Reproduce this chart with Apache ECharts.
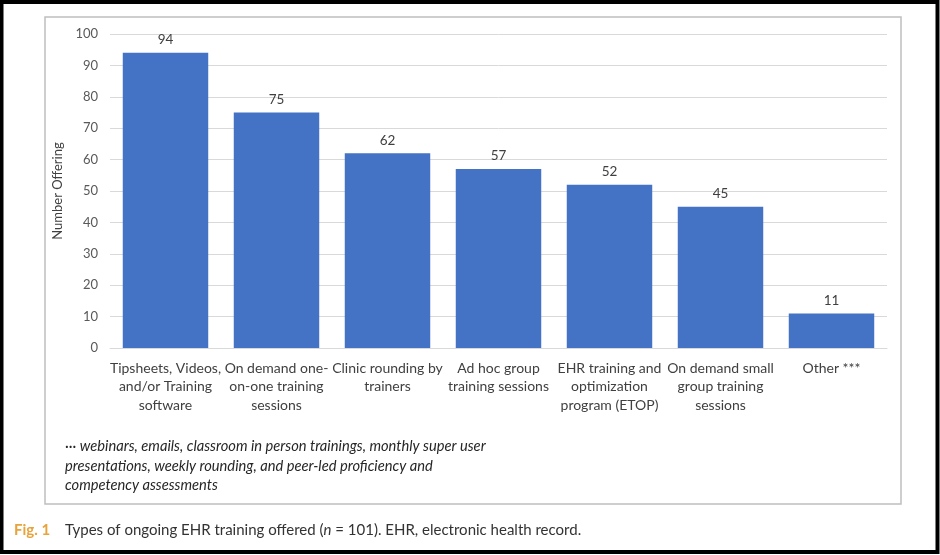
<!DOCTYPE html>
<html>
<head>
<meta charset="utf-8">
<script src="https://cdn.jsdelivr.net/npm/echarts@6/dist/echarts.min.js"></script>
<style>
    html, body { margin: 0; padding: 0; background: #fff; }
    #main { width: 940px; height: 555px; }
</style>
</head>
<body>
<div id="main"></div>
<script>
// categories and counts (n = 101)
var categories = [
    'Tipsheets, Videos,\nand/or Training\nsoftware',
    'On demand one-\non-one training\nsessions',
    'Clinic rounding by\ntrainers',
    'Ad hoc group\ntraining sessions',
    'EHR training and\noptimization\nprogram (ETOP)',
    'On demand small\ngroup training\nsessions',
    'Other ***'
];
var offering = [94, 75, 62, 57, 52, 45, 11];
var yTicks = [0, 10, 20, 30, 40, 50, 60, 70, 80, 90, 100];

var footnote = [
    '··· webinars, emails, classroom in person trainings, monthly super user',
    'presentations, weekly rounding, and peer-led proficiency and',
    'competency assessments'
];

var myChart = echarts.init(document.getElementById('main'));

window.addEventListener("resize", function () {
    myChart.resize();
});

var option = {
    animation: false,
    backgroundColor: '#ffffff',
    textStyle: { fontFamily: 'Lato' },
    grid: {
        left: 110,
        right: 53,
        top: 34,
        bottom: 207
    },
    xAxis: {
        type: 'category',
        data: categories,
        axisTick: { show: false },
        axisLine: { lineStyle: { color: '#d9d9d9' } },
        axisLabel: {
            interval: 0,
            margin: 11,
            color: '#404040',
            fontSize: 14,
            lineHeight: 18.5,
            fontFamily: 'Lato'
        }
    },
    yAxis: {
        type: 'value',
        min: yTicks[0],
        max: yTicks[yTicks.length - 1],
        interval: 10,
        name: 'Number Offering',
        nameLocation: 'middle',
        nameGap: 38,
        nameRotate: 90,
        nameTextStyle: { color: '#404040', fontSize: 13, fontFamily: 'Lato' },
        axisLine: { show: false },
        axisTick: { show: false },
        axisLabel: { color: '#595959', fontSize: 13, margin: 12, fontFamily: 'Lato' },
        splitLine: { lineStyle: { color: '#d9d9d9' } }
    },
    series: [
        {
            name: 'Number Offering',
            type: 'bar',
            data: offering,
            barCategoryGap: '23%',
            itemStyle: { color: '#4472c4' },
            label: {
                show: true,
                position: 'top',
                distance: 6,
                color: '#404040',
                fontSize: 13.5,
                fontFamily: 'Lato'
            }
        }
    ],
    graphic: [
        // outer black frame
        { type: 'rect', shape: { x: 1.5, y: 2, width: 936, height: 550 },
          style: { fill: 'none', stroke: '#000', lineWidth: 4 }, silent: true },
        // inner gray chart box
        { type: 'rect', shape: { x: 45, y: 17, width: 856, height: 487 },
          style: { fill: 'none', stroke: '#bfbfbf', lineWidth: 1.5 }, silent: true },
        { type: 'text', left: 65, top: 437,
          style: { text: footnote.join('\n'), fill: '#262626', font: 'italic 14.7px Lato', lineHeight: 19.5 } },
        { type: 'text', left: 14, top: 523,
          style: { text: 'Fig. 1', fill: '#e8a33a', font: 'bold 15px Lato' } },
        { type: 'text', left: 65, top: 523,
          style: {
              text: 'Types of ongoing EHR training offered ({i|n} = 101). EHR, electronic health record.',
              fill: '#333', font: '15px Lato',
              rich: { i: { fontStyle: 'italic', fontSize: 15, fontFamily: 'Lato', fill: '#333' } }
          } }
    ]
};
myChart.setOption(option);
</script>
</body>
</html>
